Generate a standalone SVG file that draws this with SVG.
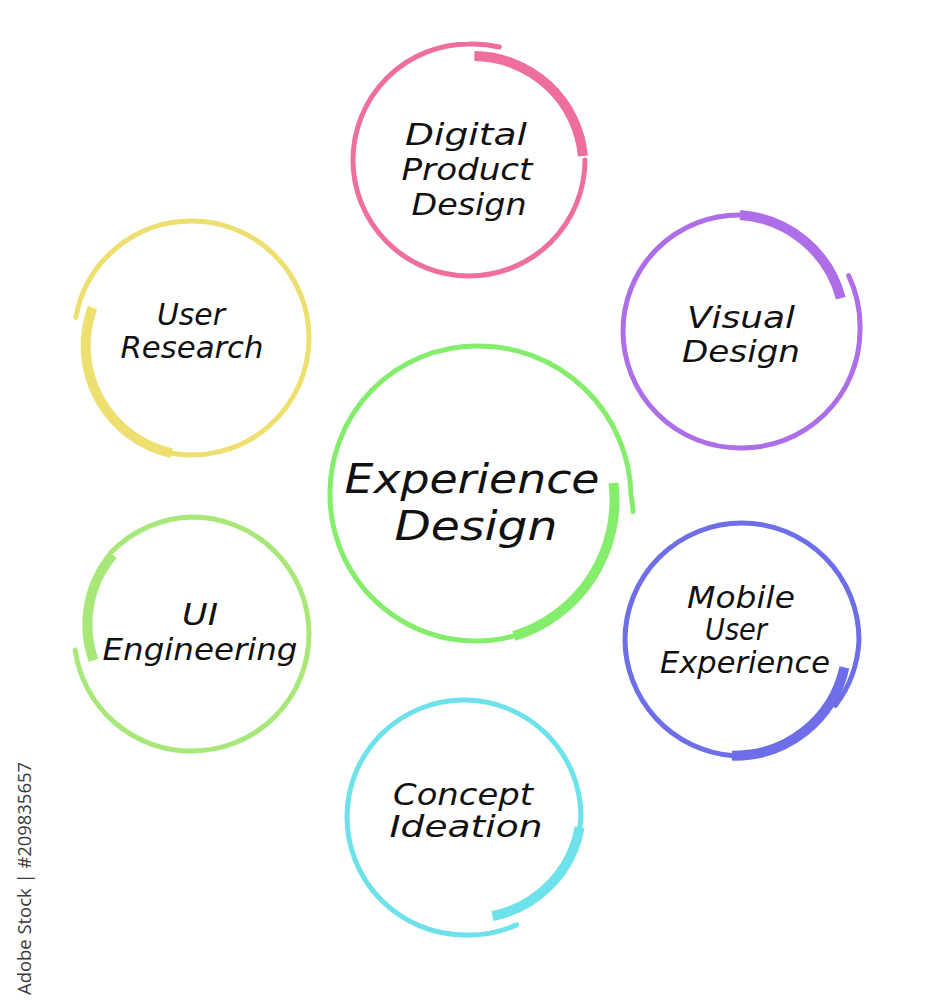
<svg xmlns="http://www.w3.org/2000/svg" width="944" height="1000" viewBox="0 0 944 1000">
<style>
.thin{fill:none;stroke-width:5;stroke-linecap:round}
.thick{fill:none;stroke-width:10;stroke-linecap:butt}
.lbl{font-family:"DejaVu Sans","Liberation Sans",sans-serif;font-style:italic;font-size:30px;fill:#111;text-anchor:middle}
.big{font-size:40px}
.wm{font-family:"Open Sans","Liberation Sans",sans-serif;font-size:18px;fill:#3a3a3a}
</style>
<rect width="944" height="1000" fill="#fff"/>
<g id="connectors"/>
<g id="node-digital" stroke="#EE6E9E">
<path class="thin" d="M585 160 A116 116 0 0 1 469 276 A116 116 0 0 1 353 160 A116 116 0 0 1 469 44 A117 117 0 0 1 499.3 47"/>
<path class="thick" d="M474.4 56.1 A110 110 0 0 1 582.9 156"/>
<text class="lbl" stroke="none" x="466" y="145" textLength="122" lengthAdjust="spacingAndGlyphs">Digital</text>
<text class="lbl" stroke="none" x="467" y="180" textLength="131" lengthAdjust="spacingAndGlyphs">Product</text>
<text class="lbl" stroke="none" x="469" y="215" textLength="115" lengthAdjust="spacingAndGlyphs">Design</text>
</g>
<g id="node-user-research" stroke="#EEE070">
<path class="thick" d="M92.5 307.6 A110 110 0 0 0 171.7 453.2"/>
<path class="thin" d="M171.7 453.2 A117 117 0 0 0 309 338 A117 117 0 0 0 192 221 A117 117 0 0 0 75.8 317.5"/>
<text class="lbl" stroke="none" x="191" y="325" textLength="68" lengthAdjust="spacingAndGlyphs">User</text>
<text class="lbl" stroke="none" x="192" y="358" textLength="143" lengthAdjust="spacingAndGlyphs">Research</text>
</g>
<g id="node-visual" stroke="#AE6EE8">
<path class="thin" d="M848.7 275.6 A121 121 0 0 1 860 331 A118 118 0 0 1 740 448 A117 117 0 0 1 623 331 A116 116 0 0 1 740 215"/>
<path class="thick" d="M740 215 A112 112 0 0 1 840.8 298.2"/>
<text class="lbl" stroke="none" x="741" y="328" textLength="108" lengthAdjust="spacingAndGlyphs">Visual</text>
<text class="lbl" stroke="none" x="741" y="362" textLength="118" lengthAdjust="spacingAndGlyphs">Design</text>
</g>
<g id="node-experience" stroke="#84EE6C">
<path class="thin" d="M525.9 632.2 A146 146 0 0 1 330 495 A147 147 0 0 1 476 346 A152 152 0 0 1 631 495 A158 158 0 0 1 633.1 511.5"/>
<path class="thick" d="M613.5 483 A142 142 0 0 1 513.8 636"/>
<text class="lbl big" stroke="none" x="472" y="493" textLength="255" lengthAdjust="spacingAndGlyphs">Experience</text>
<text class="lbl big" stroke="none" x="476" y="540" textLength="163" lengthAdjust="spacingAndGlyphs">Design</text>
</g>
<g id="node-ui" stroke="#A8E878">
<path class="thin" d="M75.2 650 A117 117 0 0 0 192 751 A117 117 0 0 0 309 634 A117 117 0 0 0 192 517 A117 117 0 0 0 110.7 552.7"/>
<path class="thick" d="M112.8 554.8 A108 108 0 0 0 93.5 660.4"/>
<text class="lbl" stroke="none" x="200" y="625" textLength="36" lengthAdjust="spacingAndGlyphs">UI</text>
<text class="lbl" stroke="none" x="200" y="660" textLength="195" lengthAdjust="spacingAndGlyphs">Engineering</text>
</g>
<g id="node-mobile" stroke="#6E6EE8">
<path class="thin" d="M731.9 755.6 A117 117 0 0 1 625 640 A117 117 0 0 1 742 523 A117 117 0 0 1 859 640 A117 117 0 0 1 835.4 705.4"/>
<path class="thick" d="M844.4 667.4 A112 112 0 0 1 731.9 755.6"/>
<text class="lbl" stroke="none" x="741" y="608" textLength="108" lengthAdjust="spacingAndGlyphs">Mobile</text>
<text class="lbl" stroke="none" x="736" y="640" textLength="62" lengthAdjust="spacingAndGlyphs">User</text>
<text class="lbl" stroke="none" x="745" y="673" textLength="170" lengthAdjust="spacingAndGlyphs">Experience</text>
</g>
<g id="node-concept" stroke="#6EE2EA">
<path class="thin" d="M516.6 924.9 A120 120 0 0 1 464 935 A118 118 0 0 1 347 817 A117 117 0 0 1 464 700 A117 117 0 0 1 581 817 A115 115 0 0 1 571.1 856"/>
<path class="thick" d="M579.6 827.1 A110 110 0 0 1 492.4 916"/>
<text class="lbl" stroke="none" x="463" y="805" textLength="140" lengthAdjust="spacingAndGlyphs">Concept</text>
<text class="lbl" stroke="none" x="466" y="837" textLength="153" lengthAdjust="spacingAndGlyphs">Ideation</text>
</g>
<text class="wm" transform="translate(31,995) rotate(-90)" textLength="233" lengthAdjust="spacingAndGlyphs">Adobe Stock | #209835657</text>
</svg>
